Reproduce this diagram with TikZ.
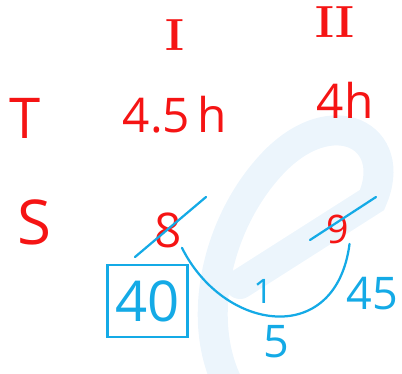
\documentclass[tikz,border=0pt]{standalone}
\usepackage{fontspec}
\setsansfont{Open Sans}
\usetikzlibrary{positioning}
\definecolor{ink}{RGB}{245,20,20}
\definecolor{pen}{RGB}{20,170,230}
\definecolor{wmk}{RGB}{236,245,252}

\begin{document}
\begin{tikzpicture}[font=\sffamily,
  rd/.style={text=ink,inner sep=0pt},
  bl/.style={text=pen,inner sep=0pt},
  strike/.style={pen,line width=1.6pt,line cap=round},
  wm/.style={wmk,line width=0.75cm,line cap=round}]
  \useasboundingbox (0,0) rectangle (10.05,-9.325);
  % watermark
  \draw[wm] (6.0,-7.1) -- (9.3,-5.0) .. controls (10.0,-3.4) and (8.3,-2.5) .. (6.8,-4.1)
    .. controls (5.4,-5.6) and (4.9,-8.0) .. (5.7,-9.6);
  % headers
  \node[rd,font=\rmfamily\bfseries\fontsize{32}{36}\selectfont] (one) at (4.375,-0.875) {I};
  \node[rd,font=\rmfamily\bfseries\fontsize{32}{36}\selectfont] (two) at (8.375,-0.55) {II};
  % rows
  \node[rd,font=\sffamily\fontsize{40}{44}\selectfont] (T) at (0.625,-2.95) {T};
  \node[rd,font=\sffamily\fontsize{34}{38}\selectfont] (t1) at (4.375,-2.875) {4.5\,h};
  \node[rd,font=\sffamily\fontsize{34}{38}\selectfont] (t2) at (8.625,-2.5) {4h};
  \node[rd,font=\sffamily\fontsize{44}{48}\selectfont] (S) at (0.85,-5.55) {S};
  \node[rd,font=\sffamily\fontsize{34}{38}\selectfont] (s1) at (4.2,-5.75) {8};
  \node[rd,font=\sffamily\fontsize{28}{32}\selectfont] (s2) at (8.45,-5.73) {9};
  % working
  \node[bl,draw=pen,line width=1.6pt,minimum width=2.0cm,minimum height=1.8cm,
    font=\sffamily\fontsize{40}{44}\selectfont] (lcm) at (3.69,-7.525) {40};
  \node[bl,font=\sffamily\fontsize{24}{28}\selectfont] (k) at (6.575,-7.275) {1};
  \node[bl,font=\sffamily\fontsize{32}{36}\selectfont] (r) at (9.3,-7.35) {45};
  \node[bl,font=\sffamily\fontsize{32}{36}\selectfont] (d) at (6.9,-8.55) {5};
  \coordinate (a1) at (3.375,-6.425); \coordinate (a2) at (5.15,-4.925);
  \coordinate (b1) at (7.75,-6.0); \coordinate (b2) at (9.4,-4.925);
  \draw[strike] (a1) -- (a2);
  \draw[strike] (b1) -- (b2);
  \draw[strike] (s1.south east) .. controls (5.6,-8.3) and (8.4,-8.7) .. (s2.south east);
\end{tikzpicture}
\end{document}
